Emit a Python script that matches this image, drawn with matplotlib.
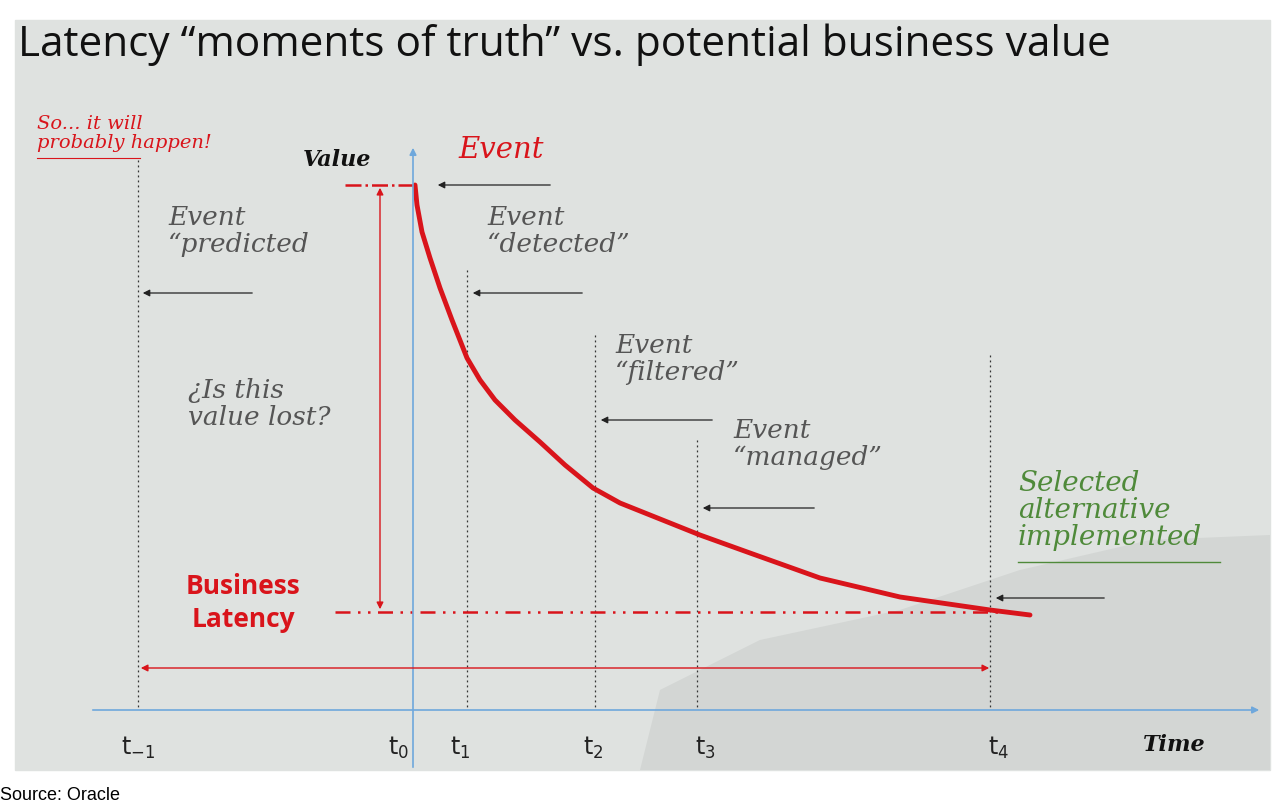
import matplotlib
matplotlib.use("Agg")
import matplotlib.pyplot as plt
from matplotlib.patches import Rectangle, Polygon

# Diagram data (pixel space)
curve_x = [415, 417, 422, 430, 440, 452, 467, 480, 495, 515, 540, 565, 593, 620, 650, 700, 750, 820, 900, 990, 1030]
curve_y = [185, 205, 232, 258, 288, 320, 358, 380, 400, 420, 442, 465, 488, 503, 515, 535, 553, 578, 597, 610, 615]
tick_x = [138, 388, 450, 583, 695, 988]
tick_labels = ["t$_{-1}$", "t$_0$", "t$_1$", "t$_2$", "t$_3$", "t$_4$"]
vline_x = [138, 467, 595, 697, 990]
vline_top = [160, 270, 335, 440, 355]

fig = plt.figure(figsize=(12.8, 8.06), dpi=100)
ax = fig.add_axes([0, 0, 1, 1])
ax.set_xlim(0, 1280); ax.set_ylim(806, 0); ax.axis("off")
ax.add_patch(Rectangle((15, 20), 1255, 750, color="#dfe2e0", zorder=0))
poly = [(640, 770), (660, 690), (760, 640), (900, 610), (1020, 570), (1150, 540), (1270, 535), (1270, 770)]
ax.add_patch(Polygon(poly, facecolor="#d3d6d4", edgecolor="none", hatch="//", zorder=0.5))

ax.text(18, 45, "Latency \u201cmoments of truth\u201d vs. potential business value", fontsize=30.5, va="center", family="Open Sans", color="#111")
ax.text(0, 795, "Source: Oracle", fontsize=13, va="center", family="Liberation Sans")

blue = "#6fa8dc"
ax.annotate("", xy=(1262, 710), xytext=(90, 710), arrowprops=dict(arrowstyle="-|>", color=blue, lw=1.2))
ax.annotate("", xy=(413, 145), xytext=(413, 770), arrowprops=dict(arrowstyle="-|>", color=blue, lw=1.2))

for x, t in zip(vline_x, vline_top):
    ax.plot([x, x], [t, 710], ls=(0, (1.5, 2.5)), color="#333", lw=0.9)

red = "#d9141b"
ax.plot(curve_x, curve_y, color=red, lw=3.5, solid_capstyle="round", solid_joinstyle="round")
ax.plot([345, 415], [185, 185], color=red, lw=1.8, ls="-.")
ax.plot([335, 1000], [612, 612], color=red, lw=1.8, ls=(0, (6, 3, 1, 3, 1, 3)))
ax.annotate("", xy=(380, 185), xytext=(380, 612), arrowprops=dict(arrowstyle="<|-|>", color=red, lw=1, mutation_scale=10))
ax.annotate("", xy=(138, 668), xytext=(992, 668), arrowprops=dict(arrowstyle="<|-|>", color=red, lw=1, mutation_scale=10))

for (x0, x1, y) in [(553, 435, 185), (255, 140, 293), (585, 470, 293), (715, 598, 420), (817, 700, 508), (1107, 993, 598)]:
    ax.annotate("", xy=(x1, y), xytext=(x0, y), arrowprops=dict(arrowstyle="-|>", color="#222", lw=0.9, mutation_scale=10))

hand = dict(family="DejaVu Serif", style="italic", fontsize=19, color="#555", va="top")
ax.text(168, 205, "Event\n\u201cpredicted", linespacing=1.1, **hand)
ax.text(487, 205, "Event\n\u201cdetected\u201d", linespacing=1.1, **hand)
ax.text(615, 333, "Event\n\u201cfiltered\u201d", linespacing=1.1, **hand)
ax.text(733, 418, "Event\n\u201cmanaged\u201d", linespacing=1.1, **hand)
ax.text(188, 378, "\u00bfIs this\nvalue lost?", linespacing=1.1, **hand)
ax.text(1018, 470, "Selected\nalternative\nimplemented", linespacing=1.0, family="DejaVu Serif", style="italic", fontsize=20, color="#4f8a3a", va="top")
ax.plot([1018, 1220], [562, 562], color="#4f8a3a", lw=1)
ax.text(37, 115, "So... it will\nprobably happen!", linespacing=1.1, family="DejaVu Serif", style="italic", fontsize=14, color=red, va="top")
ax.plot([37, 140], [158, 158], color=red, lw=0.8)
ax.text(303, 160, "Value", family="DejaVu Serif", style="italic", weight="bold", fontsize=16, color="#111", va="center")
ax.text(458, 150, "Event", family="DejaVu Serif", style="italic", fontsize=21, color=red, va="center")
ax.text(1143, 745, "Time", family="DejaVu Serif", style="italic", weight="bold", fontsize=16, color="#111", va="center")
ax.text(243, 603, "Business\nLatency", family="Open Sans", weight="bold", fontsize=19, color=red, ha="center", va="center", linespacing=1.3)

for x, l in zip(tick_x, tick_labels):
    ax.text(x, 748, l, fontsize=17, ha="left" if x != 138 else "center", va="center", family="DejaVu Sans", color="#222")

fig.savefig("out.png", dpi=100)
